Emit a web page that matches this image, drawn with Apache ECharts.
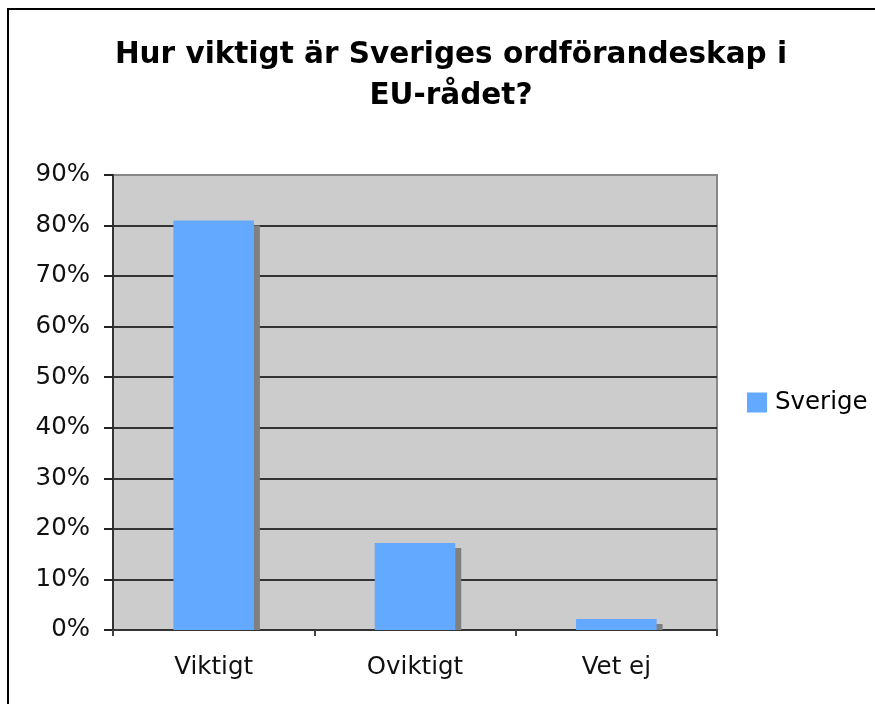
<!DOCTYPE html>
<html>
<head>
<meta charset="utf-8">
<script src="https://cdn.jsdelivr.net/npm/echarts@6/dist/echarts.min.js"></script>
<style>
  html, body { margin: 0; padding: 0; background: #fff; overflow: hidden; }
  #main { width: 875px; height: 704px; }
  .frame {
    position: absolute; left: 7px; top: 8px;
    width: 900px; height: 720px;
    border: 2px solid #000; pointer-events: none;
  }
</style>
</head>
<body>
<div id="main"></div>
<div class="frame"></div>
<script>
// data
var categories = ['Viktigt', 'Oviktigt', 'Vet ej'];
var sverige = [81, 17.2, 2.2];
var yTicks = [0, 10, 20, 30, 40, 50, 60, 70, 80, 90];

var myChart = echarts.init(document.getElementById('main'));
var font = 'DejaVu Sans, Verdana, sans-serif';

var option = {
  animation: false,
  title: {
    text: 'Hur viktigt är Sveriges ordförandeskap i\nEU-rådet?',
    left: 446,
    textAlign: 'center',
    top: 30,
    textStyle: {
      fontFamily: font,
      fontWeight: 'bold',
      fontSize: 29.5,
      lineHeight: 41,
      color: '#000'
    }
  },
  legend: {
    data: [{ name: 'Sverige', icon: 'rect' }],
    orient: 'vertical',
    left: 742,
    top: 385,
    itemWidth: 20,
    itemHeight: 20,
    itemGap: 8,
    textStyle: { fontFamily: font, fontSize: 24.5, color: '#000', padding: [0, 0, 0, 3] }
  },
  grid: {
    left: 113,
    top: 175,
    right: 158,
    bottom: 74,
    show: true,
    backgroundColor: '#cccccc',
    borderColor: '#888',
    borderWidth: 2
  },
  xAxis: {
    type: 'category',
    data: categories,
    axisLine: { show: true, lineStyle: { color: '#333', width: 2 } },
    axisTick: { show: true, interval: 0, length: 6, lineStyle: { color: '#444', width: 2 } },
    axisLabel: { margin: 25, fontFamily: font, fontSize: 24.5, color: '#111' }
  },
  yAxis: {
    type: 'value',
    min: 0,
    max: 90,
    interval: 10,
    axisLine: { show: true, lineStyle: { color: '#333', width: 2 } },
    axisTick: { show: true, length: 9, lineStyle: { color: '#222', width: 2 } },
    axisLabel: {
      margin: 23,
      fontFamily: font,
      fontSize: 24.5,
      color: '#111',
      formatter: function (v) { return yTicks.indexOf(v) >= 0 ? v + '%' : ''; }
    },
    splitLine: {
      show: true,
      lineStyle: {
        color: ['#333', '#333', '#333', '#333', '#333', '#333', '#333', '#333', '#333', '#888'],
        width: 2
      }
    }
  },
  series: [
    {
      name: 'Sverige',
      type: 'custom',
      itemStyle: { color: '#63a9ff' },
      data: sverige.map(function (v, i) { return [i, v]; }),
      renderItem: function (params, api) {
        var top = api.coord([api.value(0), api.value(1)]);
        var base = api.coord([api.value(0), 0]);
        var band = api.size([1, 0])[0];
        var w = band * 0.4;
        var x = top[0] - w / 2;
        var h = base[1] - top[1];
        return {
          type: 'group',
          children: [
            {
              // Excel-style drop shadow
              type: 'rect',
              shape: { x: x + 6, y: top[1] + 5, width: w, height: Math.max(h - 5, 0) },
              style: { fill: '#808080' }
            },
            {
              type: 'rect',
              shape: { x: x, y: top[1], width: w, height: h },
              style: { fill: '#63a9ff' }
            }
          ]
        };
      }
    }
  ]
};
myChart.setOption(option);
</script>
</body>
</html>
